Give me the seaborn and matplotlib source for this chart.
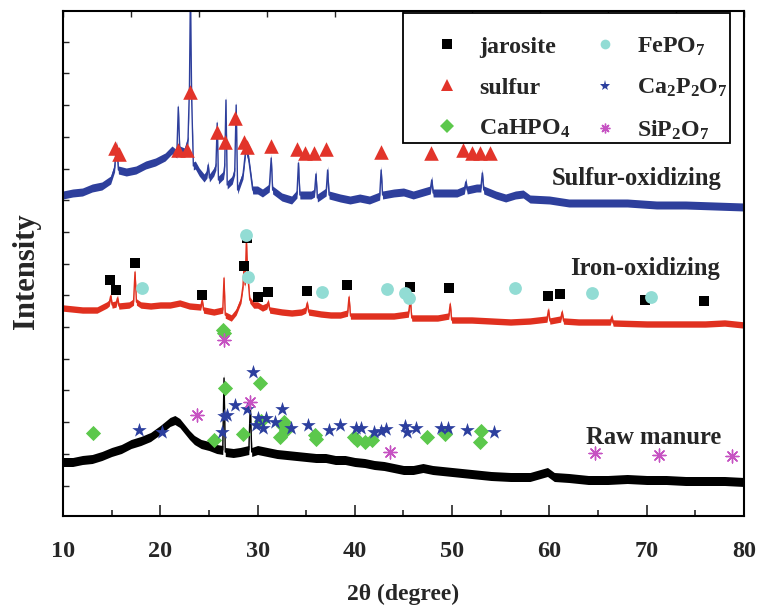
import numpy as np
import pandas as pd
import matplotlib
matplotlib.use("Agg")
import matplotlib.pyplot as plt
from matplotlib.lines import Line2D
from matplotlib.patches import Rectangle
import seaborn as sns

# ---- XRD traces (2-theta in degrees, intensity in arbitrary units, offset per sample) ----
sulfur_ox_2theta = [10, 11, 12, 13, 14, 14.9, 15.3, 15.5, 15.7, 16.5, 17.5, 18.5, 19.5, 20.5,
                    21.2, 21.7, 21.85, 22.0, 22.5, 22.85, 23.0, 23.1, 23.22, 23.4, 23.6, 24,
                    24.5, 24.8, 24.92, 25.05, 25.5, 25.72, 25.85, 25.98, 26.5, 26.62, 26.75,
                    26.88, 27.4, 27.65, 27.8, 27.95, 28.5, 28.8, 29.1, 29.5, 30, 30.5, 31.2,
                    31.4, 31.55, 32.5, 33.5, 34.05, 34.2, 34.35, 35.5, 35.85, 36.0, 36.15,
                    37.05, 37.2, 37.35, 38.5, 39.5, 40.5, 41.5, 42.55, 42.7, 42.85, 44, 45,
                    46, 47.75, 47.9, 48.05, 49.5, 50.5, 51.25, 51.4, 51.55, 52.5, 52.95, 53.1,
                    53.25, 54.5, 55.5, 56.5, 57.3, 58, 60, 62, 65, 68, 71, 74, 77, 80]
sulfur_ox_counts = [321, 323, 324, 328, 330, 336, 348, 371, 346, 344, 346, 351, 354, 359,
                    366, 362, 409, 366, 364, 376, 430, 530, 420, 350, 351, 344,
                    338, 342, 351, 338, 344, 350, 393, 336, 341, 350, 416,
                    331, 336, 345, 411, 326, 341, 368, 356, 326, 326, 323, 328,
                    358, 326, 319, 316, 322, 353, 321, 321, 323, 342, 318,
                    324, 346, 321, 318, 316, 318, 316, 320, 346, 321, 323, 324,
                    321, 326, 336, 323, 323, 323, 326, 334, 326, 328, 328, 343,
                    326, 321, 318, 321, 322, 317, 316, 313, 313, 313, 311, 311, 310, 309]

iron_ox_2theta = [10, 12, 13.5, 14.5, 14.75, 14.9, 15.05, 15.45, 15.6, 15.75, 16.8, 17.25,
                  17.4, 17.55, 18, 19, 20, 21, 22, 23, 24.15, 24.3, 24.45, 25.5, 26.42, 26.55,
                  26.68, 27.3, 27.8, 28.3, 28.5, 28.6, 28.72, 28.85, 29.0, 29.2, 29.6, 30.0,
                  30.5, 30.95, 31.1, 31.25, 32.5, 33.5, 34.5, 34.95, 35.1, 35.25, 36.5, 37.5,
                  38.5, 39.25, 39.4, 39.55, 41, 42.5, 44, 45.5, 45.7, 45.85, 47, 48.5, 49.65,
                  49.8, 49.95, 52, 54, 56, 58, 59.75, 59.9, 60.05, 61.15, 61.3, 61.45, 63, 65,
                  66.25, 66.4, 66.55, 70, 73, 76, 78, 80]
iron_ox_counts = [208, 206, 206, 211, 213, 220, 211, 212, 218, 210, 211, 214,
                  244, 214, 211, 210, 211, 211, 213, 210, 209, 216, 206, 204, 206, 238,
                  201, 198, 204, 216, 230, 248, 231, 276, 240, 216, 211, 211,
                  208, 210, 214, 206, 204, 203, 204, 206, 213, 204, 202, 201,
                  201, 203, 219, 200, 200, 200, 200, 202, 216, 198, 198, 198, 200,
                  212, 196, 196, 195, 194, 195, 197, 206, 195, 197, 204, 195, 194, 194,
                  194, 199, 193, 192, 192, 192, 193, 191]

raw_2theta = [10, 11, 12, 13, 14, 15, 16, 17, 18, 19, 20, 20.5, 21, 21.5, 22, 22.5, 23, 23.5,
              24.2, 25, 25.8, 26.42, 26.55, 26.68, 27.5, 28.2, 29.1, 29.25, 29.4, 30, 31, 32,
              33, 34, 35, 36, 37, 38, 39, 40, 41, 42, 43, 44, 45, 46, 47, 48, 50, 52, 54, 56,
              58, 59.8, 60.5, 62, 64, 66, 68, 70, 72, 74, 76, 78, 80]
raw_counts = [54, 54, 56, 57, 60, 64, 67, 72, 75, 79, 86, 90, 94, 96, 93, 87, 81, 76,
              72, 70, 67, 66, 138, 64, 63, 64, 66, 111, 64, 66, 64, 62,
              61, 60, 59, 58, 58, 56, 56, 54, 53, 51, 50, 48, 46, 46, 48, 46, 44, 42, 40, 39,
              39, 44, 39, 38, 36, 36, 37, 36, 36, 35, 35, 35, 34]

# ---- Phase identification markers (2-theta, marker height) ----
jarosite_2theta = [14.86, 15.4, 17.36, 24.26, 28.64, 28.87, 30.0, 31.1, 35.1, 39.2, 45.66, 49.7,
                   59.85, 61.1, 69.8, 75.85]
jarosite_y = [236, 226, 253, 221, 250, 278, 219, 224, 225, 231, 229, 228, 220, 222, 216, 215]

sulfur_2theta = [15.37, 15.8, 21.87, 22.7, 23.07, 25.8, 26.7, 27.7, 28.6, 28.9, 31.4, 34.1, 34.9,
                 35.8, 37.0, 42.7, 47.8, 51.1, 52.0, 52.9, 53.9]
sulfur_y = [368, 362, 366, 366, 424, 384, 374, 398, 374, 369, 370, 367, 363, 363, 367, 364,
            363, 366, 363, 363, 363]

cahpo4_2theta = [26.4, 26.6, 13.1, 25.5, 26.7, 28.5, 30.2, 30.35, 32.3, 32.6, 32.75, 32.95, 35.9,
                 36.05, 39.9, 40.26, 41.05, 41.8, 47.37, 49.25, 53.0, 52.9]
cahpo4_y = [186, 183, 83, 76, 128, 82, 133, 95, 79, 90, 94, 86, 81, 77, 79, 76, 74, 76, 79, 82,
            85, 74]

fepo7_2theta = [18.14, 28.8, 28.97, 36.67, 43.3, 45.2, 45.56, 56.43, 64.36, 70.4]
fepo7_y = [228, 281, 239, 224, 227, 223, 218, 228, 223, 219]

ca2p2o7_2theta = [17.77, 20.15, 26.3, 26.6, 26.9, 27.7, 28.87, 29.5, 29.84, 30.04, 30.6, 30.86,
                  31.8, 32.5, 33.4, 35.2, 37.35, 38.5, 40.1, 40.6, 41.97, 42.65, 43.17, 45.2,
                  45.4, 46.3, 48.9, 49.6, 51.5, 54.3]
ca2p2o7_y = [86, 84, 84, 100, 101, 111, 107, 144, 91, 98, 88, 98, 94, 107, 88, 91, 86, 91, 88,
             88, 84, 85, 87, 90, 84, 88, 88, 88, 86, 84]

sip2o7_2theta = [26.6, 23.75, 29.2, 43.6, 64.7, 71.3, 78.8]
sip2o7_y = [176, 101, 114, 64, 63, 61, 60]

sample_names = ["Sulfur-oxidizing", "Iron-oxidizing", "Raw manure"]
x_ticks = [10, 20, 30, 40, 50, 60, 70, 80]

# ---- style ----
sns.set_theme(style="ticks")
plt.rcParams["font.family"] = ["Liberation Serif", "DejaVu Serif"]
plt.rcParams["font.weight"] = "bold"
plt.rcParams["mathtext.fontset"] = "custom"
plt.rcParams["mathtext.rm"] = "Liberation Serif:bold"
plt.rcParams["mathtext.bf"] = "Liberation Serif:bold"
plt.rcParams["mathtext.it"] = "Liberation Serif:bold"

trace_colors = {"Sulfur-oxidizing": "#2e3f9c", "Iron-oxidizing": "#e0301f",
                "Raw manure": "#000000"}
noise_half = {"Sulfur-oxidizing": 4.0, "Iron-oxidizing": 3.2, "Raw manure": 4.5}

traces = pd.concat([
    pd.DataFrame({"two_theta": sulfur_ox_2theta, "counts": sulfur_ox_counts,
                  "sample": sample_names[0]}),
    pd.DataFrame({"two_theta": iron_ox_2theta, "counts": iron_ox_counts,
                  "sample": sample_names[1]}),
    pd.DataFrame({"two_theta": raw_2theta, "counts": raw_counts, "sample": sample_names[2]}),
], ignore_index=True)

fig = plt.figure(figsize=(7.69, 6.05), dpi=100)
ax = fig.add_axes([63 / 769, 1 - 516 / 605, 681 / 769, 505 / 605])

# noise band around each trace
for name, grp in traces.groupby("sample", sort=False):
    h = noise_half[name]
    ax.fill_between(grp["two_theta"], grp["counts"] - h, grp["counts"] + h,
                    color=trace_colors[name], lw=0, zorder=1.5)

sns.lineplot(data=traces, x="two_theta", y="counts", hue="sample", palette=trace_colors,
             estimator=None, sort=False, legend=False, lw=1.0, ax=ax, zorder=2)

phases = [
    ("jarosite", jarosite_2theta, jarosite_y, "s", "#000000", 60),
    ("sulfur", sulfur_2theta, sulfur_y, "^", "#e2342a", 110),
    ("CaHPO$_4$", cahpo4_2theta, cahpo4_y, "D", "#5cc84c", 60),
    ("FePO$_7$", fepo7_2theta, fepo7_y, "o", "#92dcd4", 85),
    ("Ca$_2$P$_2$O$_7$", ca2p2o7_2theta, ca2p2o7_y, "*", "#2c3f9e", 120),
    ("SiP$_2$O$_7$", sip2o7_2theta, sip2o7_y, (8, 2, 0), "#c652c2", 85),
]

handles = []
for label, xs, ys, mk, col, size in phases:
    df = pd.DataFrame({"two_theta": xs, "y": ys})
    asterisk = isinstance(mk, tuple)
    sns.scatterplot(data=df, x="two_theta", y="y", marker=mk, s=size, color=col,
                    edgecolor=col, linewidth=1.0 if asterisk else 0, legend=False,
                    ax=ax, zorder=3)
    handles.append(Line2D([], [], ls="none", marker=mk, color=col, markeredgecolor=col,
                          markersize=8 if mk in ("^", "*") else 7,
                          markeredgewidth=1.0 if asterisk else 0, label=label))

# sample labels
ax.text(77.7, 338, "Sulfur-oxidizing", ha="right", va="center", fontsize=17.7,
        fontweight="bold")
ax.text(77.5, 248, "Iron-oxidizing", ha="right", va="center", fontsize=17.7,
        fontweight="bold")
ax.text(77.7, 78, "Raw manure", ha="right", va="center", fontsize=17.7, fontweight="bold")

# legend with a separately drawn frame
ax.add_patch(Rectangle((0.4993, 0.7386), 0.4801, 0.2574, transform=ax.transAxes,
                       fill=True, facecolor="white", edgecolor="black", lw=1.3, zorder=4))
leg = ax.legend(handles=handles, ncol=2, loc="upper left", bbox_to_anchor=(0.546, 0.951),
                frameon=False, labelspacing=0.8, columnspacing=0.95, handletextpad=0.85,
                borderpad=0.0, borderaxespad=0.0, handlelength=1.0,
                prop={"weight": "bold", "size": 17.2})
leg.set_zorder(5)

ax.set_xlim(10, 80)
ax.set_ylim(0, 505)
ax.set_xticks(x_ticks)
ax.set_xticks([15, 25, 35, 45, 55, 65, 75], minor=True)
ax.set_yticks(np.arange(30.5, 480, 31.7))
ax.set_yticklabels([])
ax.tick_params(axis="x", which="major", direction="in", length=8, width=1.2, labelsize=17.5,
               pad=18)
ax.tick_params(axis="x", which="minor", direction="in", length=4, width=1.2)
ax.tick_params(axis="y", which="major", direction="in", length=4, width=1.0)
for lbl in ax.get_xticklabels():
    lbl.set_fontweight("bold")

top = ax.secondary_xaxis("top")
top.set_xticks(np.linspace(10, 80, 11))
top.set_xticklabels([])
top.tick_params(direction="in", length=4, width=1.0)

for sp in ax.spines.values():
    sp.set_linewidth(1.5)
    sp.set_color("black")

ax.set_xlabel("2θ (degree)", fontsize=17, fontweight="bold", labelpad=16)
ax.set_ylabel("Intensity", fontsize=22, fontweight="bold")
ax.yaxis.set_label_coords(-0.0326, 0.485)

fig.savefig("out.png", dpi=100)
